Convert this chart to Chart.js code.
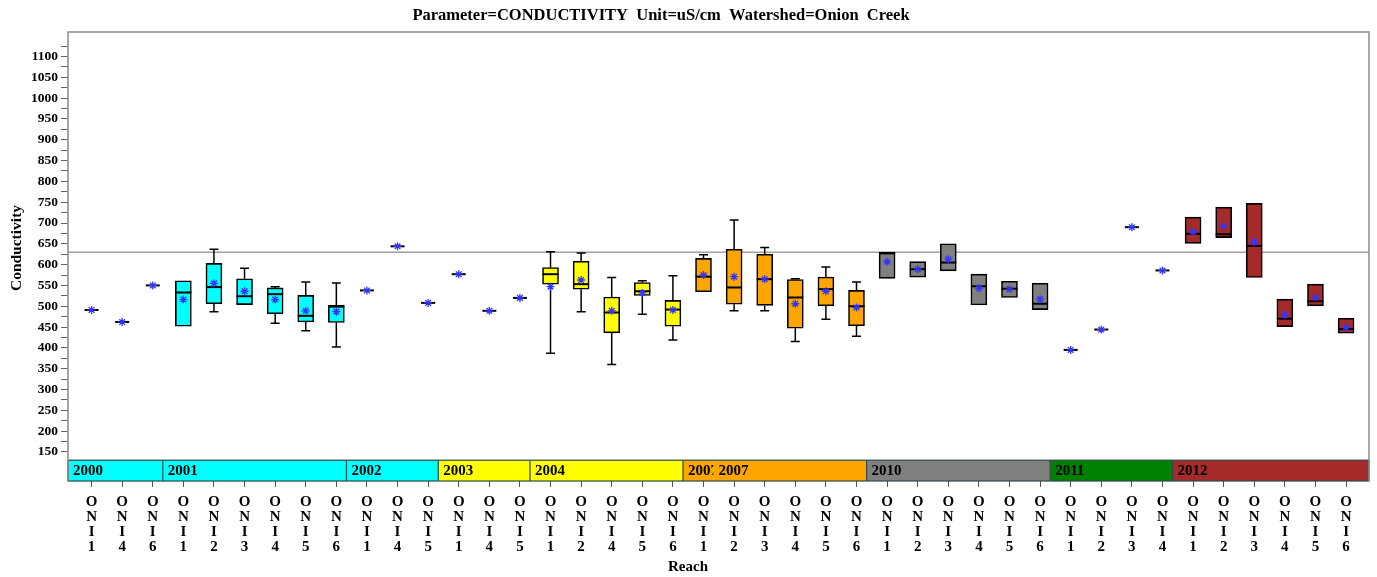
<!DOCTYPE html>
<html>
<head>
<meta charset="utf-8">
<title>Conductivity - Onion Creek</title>
<script src="https://cdn.jsdelivr.net/npm/chart.js@4.4.1/dist/chart.umd.min.js"></script>
<style>
  html, body { margin: 0; padding: 0; background: #fff; }
  #wrap { width: 1377px; height: 577px; }
</style>
</head>
<body>
<div id="wrap"><canvas id="boxchart" width="1377" height="577"></canvas></div>
<script>
// reach per box, in plot order
const reaches = [
  "ONI1", "ONI4", "ONI6",
  "ONI1", "ONI2", "ONI3", "ONI4", "ONI5", "ONI6",
  "ONI1", "ONI4", "ONI5",
  "ONI1", "ONI4", "ONI5",
  "ONI1", "ONI2", "ONI4", "ONI5", "ONI6",
  "ONI1", "ONI2", "ONI3", "ONI4", "ONI5", "ONI6",
  "ONI1", "ONI2", "ONI3", "ONI4", "ONI5", "ONI6",
  "ONI1", "ONI2", "ONI3", "ONI4",
  "ONI1", "ONI2", "ONI3", "ONI4", "ONI5", "ONI6",
];
const years = [
  "2000", "2000", "2000",
  "2001", "2001", "2001", "2001", "2001", "2001",
  "2002", "2002", "2002",
  "2003", "2003", "2003",
  "2004", "2004", "2004", "2004", "2004",
  "2007", "2007", "2007", "2007", "2007", "2007",
  "2010", "2010", "2010", "2010", "2010", "2010",
  "2011", "2011", "2011", "2011",
  "2012", "2012", "2012", "2012", "2012", "2012",
];

// box statistics (uS/cm)
const lows = [
  491, 462, 550,
  452, 487, 504, 459, 441, 402,
  538, 644, 508,
  577, 489, 520,
  387, 487, 360, 481, 419,
  535, 489, 489, 415, 469, 428,
  567, 570, 585, 503, 521, 492,
  395, 444, 690, 586,
  651, 665, 569, 451, 501, 435,
];
const q1s = [
  491, 462, 550,
  452, 506, 504, 482, 462, 461,
  538, 644, 508,
  577, 489, 520,
  553, 541, 436, 526, 452,
  535, 505, 502, 447, 501, 453,
  567, 570, 585, 503, 521, 492,
  395, 444, 690, 586,
  651, 665, 569, 451, 501, 435,
];
const medians = [
  491, 462, 550,
  533, 546, 524, 529, 477, 499,
  538, 644, 508,
  577, 489, 520,
  577, 553, 485, 536, 492,
  571, 545, 565, 521, 541, 500,
  627, 589, 605, 548, 542, 506,
  395, 444, 690, 586,
  674, 673, 645, 470, 512, 445,
];
const q3s = [
  491, 462, 550,
  561, 603, 566, 544, 526, 502,
  538, 644, 508,
  577, 489, 520,
  593, 608, 522, 557, 514,
  615, 637, 625, 564, 570, 538,
  630, 607, 650, 577, 560, 555,
  395, 444, 690, 586,
  714, 738, 747, 517, 553, 471,
];
const highs = [
  491, 462, 550,
  561, 637, 591, 547, 558, 556,
  538, 644, 508,
  577, 489, 520,
  631, 628, 569, 561, 573,
  624, 707, 641, 566, 594, 558,
  630, 607, 650, 577, 560, 555,
  395, 444, 690, 586,
  714, 738, 747, 517, 553, 471,
];
const means = [
  491, 462, 550,
  516, 555, 536, 516, 489, 487,
  538, 644, 508,
  577, 489, 520,
  547, 563, 489, 532, 491,
  575, 571, 565, 506, 536, 497,
  607, 589, 613, 543, 541, 517,
  395, 444, 690, 586,
  679, 693, 654, 479, 521, 449,
];

// year strip under the boxes
const bandYears = ["2000", "2001", "2002", "2003", "2004", "2007", "2007", "2010", "2011", "2012"];
const bandStarts = [0, 3, 9, 12, 15, 20, 21, 26, 32, 36];
const yearColors = {
  "2000": "#00ffff", "2001": "#00ffff", "2002": "#00ffff",
  "2003": "#ffff00", "2004": "#ffff00",
  "2007": "#ffa500",
  "2010": "#808080",
  "2011": "#008000",
  "2012": "#a52a2a",
};

const refValue = 630;
const yTickValues = [
  150, 175, 200, 225, 250, 275, 300, 325, 350, 375, 400, 425, 450, 475,
  500, 525, 550, 575, 600, 625, 650, 675, 700, 725, 750, 775, 800, 825,
  850, 875, 900, 925, 950, 975, 1000, 1025, 1050, 1075, 1100, 1125,
];
const yLabelValues = [
  150, 200, 250, 300, 350, 400, 450, 500, 550, 600, 650, 700, 750, 800,
  850, 900, 950, 1000, 1050, 1100,
];

const serif = "'Liberation Serif', 'Times New Roman', serif";
const meanColor = "#3434ff";

// only real boxes go to the bar dataset, single samples are a median tick
const boxData = [];
const boxColors = [];
reaches.forEach((r, i) => {
  if (q3s[i] > q1s[i]) {
    boxData.push({ x: i, y: [q1s[i], q3s[i]] });
    boxColors.push(yearColors[years[i]]);
  }
});
const meanData = means.map((m, i) => ({ x: i, y: m }));

// strip + reference line, under the boxes
const yearStrip = {
  id: "yearStrip",
  beforeDatasetsDraw(chart) {
    const { ctx, chartArea, scales: { x, y } } = chart;
    const top = y.getPixelForValue(130);
    const bottom = chartArea.bottom;
    const lefts = bandStarts.map((s, i) => (i === 0 ? chartArea.left : x.getPixelForValue(s - 0.67)));
    ctx.save();
    bandYears.forEach((yr, i) => {
      const l = lefts[i];
      const r = i < bandYears.length - 1 ? lefts[i + 1] : chartArea.right;
      ctx.fillStyle = yearColors[yr];
      ctx.fillRect(l, top, r - l, bottom - top);
      ctx.save();
      ctx.beginPath();
      ctx.rect(l, top, r - l, bottom - top);
      ctx.clip();
      ctx.fillStyle = "#000";
      ctx.font = "bold 15px " + serif;
      ctx.textBaseline = "middle";
      ctx.textAlign = "left";
      ctx.fillText(yr, l + 5, (top + bottom) / 2 + 1);
      ctx.restore();
    });
    ctx.strokeStyle = "#2b4a4a";
    ctx.lineWidth = 1.2;
    bandYears.forEach((yr, i) => {
      if (i > 0 && bandYears[i - 1] !== yr) {
        ctx.beginPath();
        ctx.moveTo(lefts[i], top);
        ctx.lineTo(lefts[i], bottom);
        ctx.stroke();
      }
    });
    ctx.strokeRect(chartArea.left, top, chartArea.right - chartArea.left, bottom - top);

    // reference level
    const ry = y.getPixelForValue(refValue);
    ctx.strokeStyle = "#a0a0a0";
    ctx.lineWidth = 1.5;
    ctx.beginPath();
    ctx.moveTo(chartArea.left, ry);
    ctx.lineTo(chartArea.right, ry);
    ctx.stroke();
    ctx.restore();
  },
};

// whiskers and medians on top of the boxes
const boxWhiskers = {
  id: "boxWhiskers",
  afterDatasetDraw(chart, args) {
    if (args.index !== 0) return;
    const { ctx, scales: { x, y } } = chart;
    ctx.save();
    ctx.strokeStyle = "#000";
    reaches.forEach((r, i) => {
      const px = x.getPixelForValue(i);
      ctx.lineWidth = 1.5;
      if (highs[i] > q3s[i]) {
        ctx.beginPath();
        ctx.moveTo(px, y.getPixelForValue(q3s[i]));
        ctx.lineTo(px, y.getPixelForValue(highs[i]));
        ctx.moveTo(px - 4.5, y.getPixelForValue(highs[i]));
        ctx.lineTo(px + 4.5, y.getPixelForValue(highs[i]));
        ctx.stroke();
      }
      if (lows[i] < q1s[i]) {
        ctx.beginPath();
        ctx.moveTo(px, y.getPixelForValue(q1s[i]));
        ctx.lineTo(px, y.getPixelForValue(lows[i]));
        ctx.moveTo(px - 4.5, y.getPixelForValue(lows[i]));
        ctx.lineTo(px + 4.5, y.getPixelForValue(lows[i]));
        ctx.stroke();
      }
      const half = q3s[i] > q1s[i] ? 8 : 7;
      const my = y.getPixelForValue(medians[i]);
      ctx.lineWidth = 2;
      ctx.beginPath();
      ctx.moveTo(px - half, my);
      ctx.lineTo(px + half, my);
      ctx.stroke();
    });
    ctx.restore();
  },
};

// frame and the free-standing titles
const frameAndTitles = {
  id: "frameAndTitles",
  afterDraw(chart) {
    const { ctx, chartArea } = chart;
    ctx.save();
    ctx.strokeStyle = "#8c8c8c";
    ctx.lineWidth = 1.5;
    ctx.beginPath();
    ctx.moveTo(chartArea.left, chartArea.bottom);
    ctx.lineTo(chartArea.left, chartArea.top);
    ctx.lineTo(chartArea.right, chartArea.top);
    ctx.lineTo(chartArea.right, chartArea.bottom);
    ctx.stroke();
    ctx.fillStyle = "#000";
    ctx.textAlign = "center";
    ctx.textBaseline = "middle";
    ctx.font = "bold 16.5px " + serif;
    ctx.fillText("Parameter=CONDUCTIVITY  Unit=uS/cm  Watershed=Onion  Creek", 661, 16);
    ctx.font = "bold 15px " + serif;
    ctx.fillText("Reach", 688, 567);
    ctx.translate(17, 248);
    ctx.rotate(-Math.PI / 2);
    ctx.font = "bold 15.5px " + serif;
    ctx.fillText("Conductivity", 0, 0);
    ctx.restore();
  },
};

const ctx = document.getElementById("boxchart").getContext("2d");
const boxChart = new Chart(ctx, {
  type: "bar",
  data: {
    datasets: [
      {
        label: "Box",
        data: boxData,
        backgroundColor: boxColors,
        borderColor: "#000",
        borderWidth: 1.6,
        borderSkipped: false,
        barThickness: 16,
        order: 2,
      },
      {
        type: "line",
        label: "Mean",
        data: meanData,
        showLine: false,
        pointStyle: "star",
        pointRadius: 4,
        pointBorderWidth: 1.3,
        pointBorderColor: meanColor,
        pointBackgroundColor: meanColor,
        order: 1,
      },
    ],
  },
  options: {
    responsive: false,
    animation: false,
    layout: { padding: { left: 0, right: 8, top: 32, bottom: 0 } },
    plugins: {
      legend: { display: false },
      tooltip: { enabled: false },
    },
    scales: {
      x: {
        type: "linear",
        min: -0.77,
        max: 41.75,
        offset: false,
        afterBuildTicks: (scale) => {
          scale.ticks = reaches.map((r, i) => ({ value: i }));
        },
        afterFit: (scale) => {
          scale.height = 96;
        },
        ticks: {
          autoSkip: false,
          maxRotation: 0,
          minRotation: 0,
          padding: 8,
          color: "#000",
          font: { family: serif, size: 15, weight: "bold", lineHeight: 1.0 },
          callback: (v) => (reaches[v] ? reaches[v].split("") : ""),
        },
        grid: { drawOnChartArea: false, offset: false, tickLength: 6, color: "#555" },
        border: { display: false },
      },
      y: {
        type: "linear",
        min: 80,
        max: 1159,
        afterBuildTicks: (scale) => {
          scale.ticks = yTickValues.map((v) => ({ value: v }));
        },
        afterFit: (scale) => {
          scale.width = 68;
        },
        ticks: {
          autoSkip: false,
          padding: 3,
          color: "#000",
          font: { family: serif, size: 13.5, weight: "bold" },
          callback: (v) => (yLabelValues.includes(v) ? String(v) : ""),
        },
        grid: { drawOnChartArea: false, tickLength: 7, color: "#666" },
        border: { display: false },
      },
    },
  },
  plugins: [yearStrip, boxWhiskers, frameAndTitles],
});
</script>
</body>
</html>
